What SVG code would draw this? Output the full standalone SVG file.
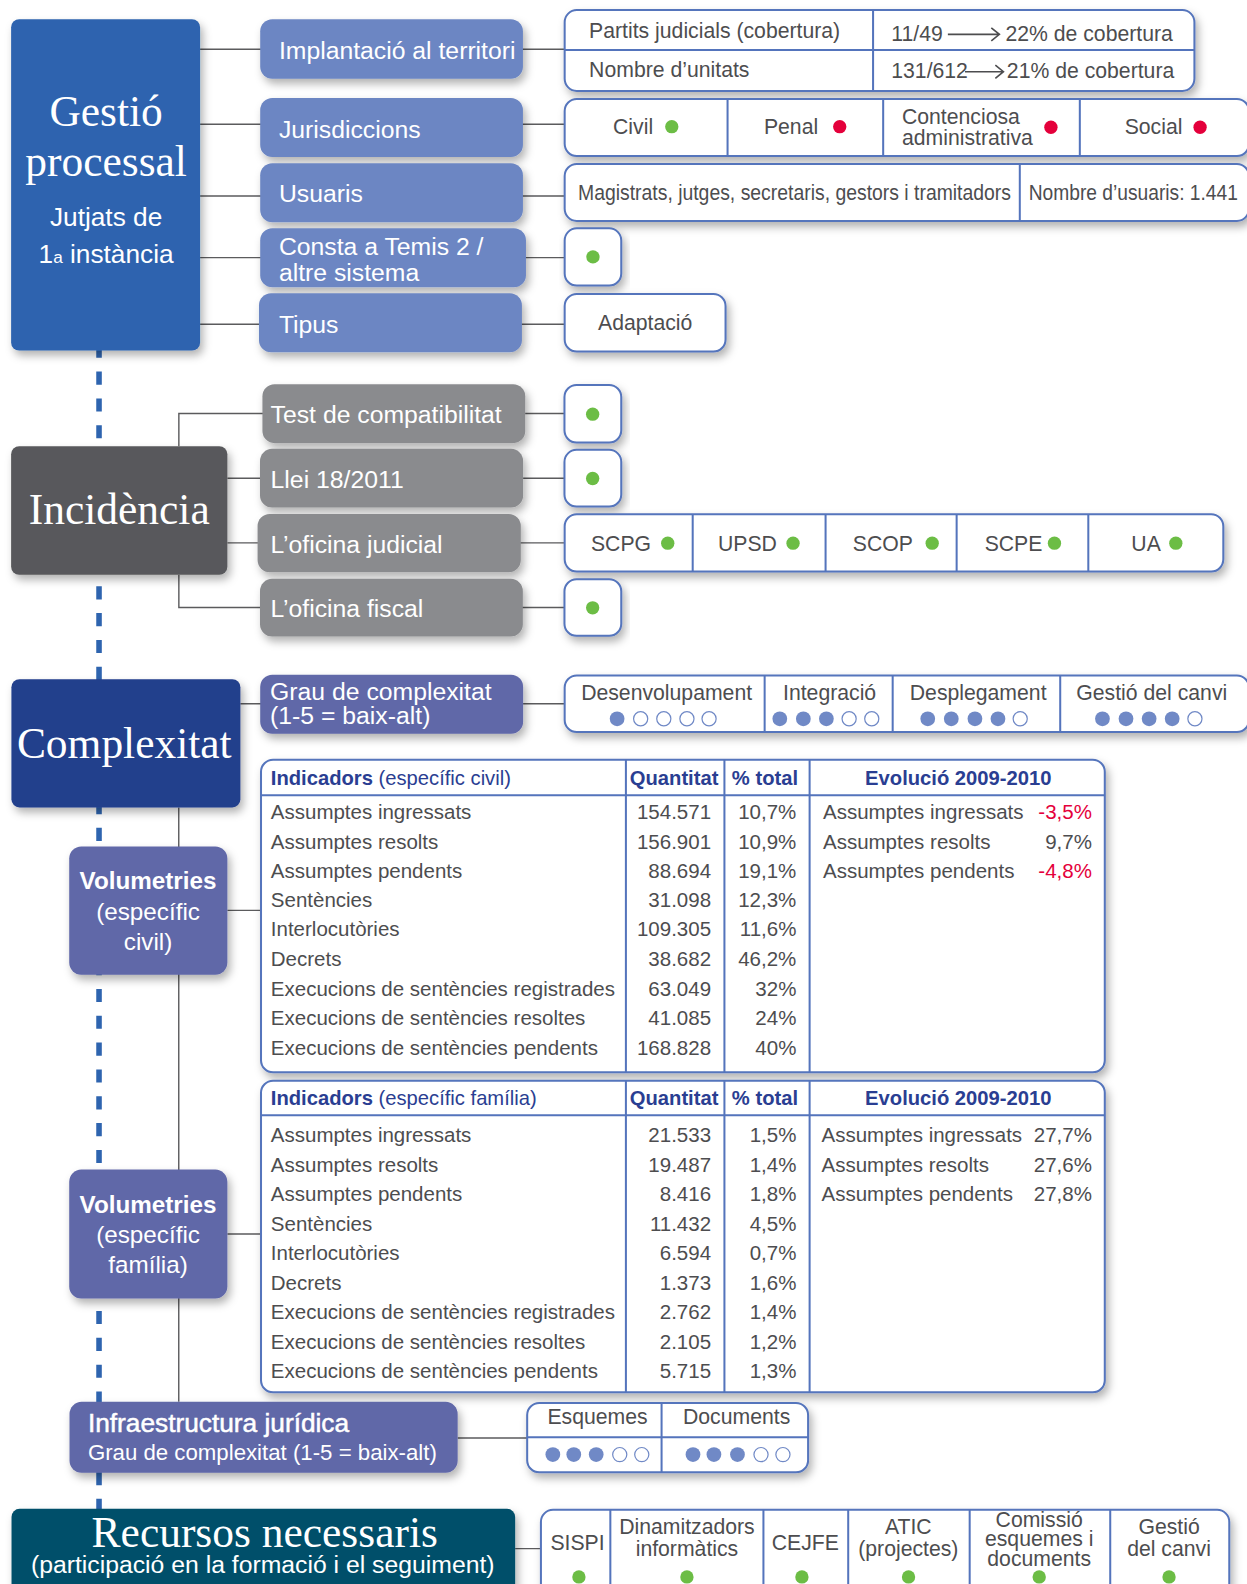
<svg xmlns="http://www.w3.org/2000/svg" width="1247" height="1584" viewBox="0 0 1247 1584">
<defs>
<filter id="sh" x="-10%" y="-15%" width="125%" height="145%">
<feDropShadow dx="3" dy="5" stdDeviation="4" flood-color="#000" flood-opacity="0.3"/>
</filter>
<style>
.cn{stroke:#5b5b5d;stroke-width:1.4;fill:none}
.dash{stroke:#2e64af;stroke-width:5.5;stroke-dasharray:13 13.57;fill:none}
.bx{fill:#fff;stroke:#5474bc;stroke-width:2;filter:url(#sh)}
.dv{stroke:#5474bc;stroke-width:2;fill:none}
.pl{fill:#6c86c3;filter:url(#sh)}
.pg{fill:#8a8b8e;filter:url(#sh)}
.pv{fill:#6067a8;filter:url(#sh)}
.hb{filter:url(#sh)}
text{font-family:"Liberation Sans",Arial,sans-serif}
.t{fill:#4d4d4f;font-size:21px}
.s{fill:#4d4d4f;font-size:20.3px}
.s.red{fill:#e4003b}
.pt{fill:#fff;font-size:24.5px}
.ser{font-family:"Liberation Serif","Times New Roman",serif;fill:#fff;font-size:43px}
.hd{fill:#2a3e92;font-size:20px;font-weight:bold}
.g{fill:#6cbd45}.r{fill:#e4003b}.df{fill:#7089c6}.de{fill:#fff;stroke:#7089c6;stroke-width:1.2}
.m{text-anchor:middle}.e{text-anchor:end}
.arr{stroke:#4d4d4f;stroke-width:1.6;fill:none}
</style>
</defs>
<rect width="1247" height="1584" fill="#fff"/>
<g transform="scale(1.0105 1.0102)">
<g id="connectors">
<path class="dash" d="M98 341.23 V1495"/>
<path class="cn" d="M198 48.8 H558.8 M198 123 H558.8 M198 194 H558.8 M198 255 H558.8 M198 321 H558.8"/>
<path class="cn" d="M177 441.7 V409.4 H558.6 M225 473.4 H558.6 M225 537.4 H558.8 M177 569 V601.4 H558.6"/>
<path class="cn" d="M237.9 696.7 H558.8 M176.9 799.3 V1387.7 M225 901.2 H258.3 M225 1221.5 H258.3 M452.9 1423.4 H521.7 M509.8 1533 H535.3"/>
</g>

<g id="gestio">
<rect class="hb" x="11" y="19" width="187" height="328" rx="8" fill="#2e64af"/>
<text class="ser m" x="105" y="125">Gestió</text>
<text class="ser m" x="105" y="174">processal</text>
<text class="m" x="105" y="224" fill="#fff" font-size="26">Jutjats de</text>
<text class="m" x="105" y="260" fill="#fff" font-size="26">1<tspan font-size="17">a</tspan> instància</text>
</g>

<g id="implantacio">
<rect class="pl" x="257.5" y="19" width="260" height="59" rx="12"/>
<text class="pt" x="276" y="58.7">Implantació al territori</text>
</g>
<g id="jurisdiccions">
<rect class="pl" x="257.5" y="97" width="260" height="58.5" rx="12"/>
<text class="pt" x="276" y="136.3">Jurisdiccions</text>
</g>
<g id="usuaris">
<rect class="pl" x="257.5" y="161.6" width="260" height="58.4" rx="12"/>
<text class="pt" x="276" y="199.6">Usuaris</text>
</g>
<g id="consta">
<rect class="pl" x="257.5" y="226" width="263" height="58.4" rx="12"/>
<text class="pt" x="276" y="252.4">Consta a Temis 2 /</text>
<text class="pt" x="276" y="277.8">altre sistema</text>
</g>
<g id="tipus">
<rect class="pl" x="256.3" y="290.3" width="260.2" height="58.4" rx="12"/>
<text class="pt" x="276" y="329.2">Tipus</text>
</g>

<g id="implantacio-box">
<rect class="bx" x="558.8" y="10" width="623.2" height="80" rx="12"/>
<path class="dv" d="M558.8 49.5 H1182 M864 10 V90"/>
<text class="t" x="583" y="38">Partits judicials (cobertura)</text>
<text class="t" x="882" y="40.2">11/49</text>
<path class="arr" d="M938 34 H989 M981 27.5 L989 34 L981 40.5"/>
<text class="t" x="995" y="40.2">22% de cobertura</text>
<text class="t" x="583" y="76">Nombre d’unitats</text>
<text class="t" x="882" y="77.5">131/612</text>
<path class="arr" d="M955 71 H993 M985 64.5 L993 71 L985 77.5"/>
<text class="t" x="996.4" y="77.5">21% de cobertura</text>
</g>

<g id="jurisdiccions-box">
<rect class="bx" x="558.8" y="98" width="677.2" height="56.4" rx="12"/>
<path class="dv" d="M720 98 V154.4 M874 98 V154.4 M1068.6 98 V154.4"/>
<text class="t" x="606.7" y="133">Civil</text><circle class="g" cx="664.8" cy="125.4" r="6.6"/>
<text class="t" x="756" y="133">Penal</text><circle class="r" cx="831" cy="125.4" r="6.6"/>
<text class="t" x="892.6" y="123">Contenciosa</text>
<text class="t" x="892.6" y="143.5">administrativa</text><circle class="r" cx="1040" cy="126" r="6.6"/>
<text class="t" x="1113" y="133">Social</text><circle class="r" cx="1187.6" cy="126" r="6.6"/>
</g>

<g id="usuaris-box">
<rect class="bx" x="558.8" y="162.3" width="677.2" height="56.4" rx="12"/>
<path class="dv" d="M1009.2 162.3 V218.7"/>
<text class="t" x="572" y="198" font-size="19.3" textLength="428.5" lengthAdjust="spacingAndGlyphs">Magistrats, jutges, secretaris, gestors i tramitadors</text>
<text class="t" x="1018" y="198" font-size="19.2" textLength="207" lengthAdjust="spacingAndGlyphs">Nombre d’usuaris: 1.441</text>
</g>

<g id="consta-box">
<rect class="bx" x="558.8" y="226" width="56" height="56.7" rx="12"/>
<circle class="g" cx="586.8" cy="254.3" r="6.6"/>
</g>
<g id="tipus-box">
<rect class="bx" x="558.8" y="291" width="159.2" height="57" rx="12"/>
<text class="t m" x="638.5" y="326.6">Adaptació</text>
</g>

<g id="incidencia">
<rect class="hb" x="11" y="441.7" width="214" height="127.3" rx="8" fill="#58595b"/>
<text class="ser m" x="118" y="518.6">Incidència</text>
</g>
<g id="test">
<rect class="pg" x="259.7" y="380.3" width="260.1" height="58.4" rx="12"/>
<text class="pt" x="267.8" y="419">Test de compatibilitat</text>
</g>
<g id="llei">
<rect class="pg" x="257.3" y="444.3" width="260.4" height="58.1" rx="12"/>
<text class="pt" x="267.8" y="483.3">Llei 18/2011</text>
</g>
<g id="oficina-judicial">
<rect class="pg" x="254.9" y="508.7" width="260.5" height="57.7" rx="12"/>
<text class="pt" x="267.8" y="547">L’oficina judicial</text>
</g>
<g id="oficina-fiscal">
<rect class="pg" x="257.3" y="573" width="260.1" height="57" rx="12"/>
<text class="pt" x="267.8" y="611">L’oficina fiscal</text>
</g>
<g id="test-box">
<rect class="bx" x="558.6" y="381" width="56.2" height="57" rx="12"/>
<circle class="g" cx="586.5" cy="410" r="6.6"/>
</g>
<g id="llei-box">
<rect class="bx" x="558.6" y="445.3" width="56.2" height="56.1" rx="12"/>
<circle class="g" cx="586.5" cy="473.7" r="6.6"/>
</g>
<g id="oficina-judicial-box">
<rect class="bx" x="558.8" y="509" width="651.8" height="56.7" rx="12"/>
<path class="dv" d="M685.5 509 V565.7 M817 509 V565.7 M946.7 509 V565.7 M1077 509 V565.7"/>
<text class="t" x="584.8" y="545">SCPG</text><circle class="g" cx="660.8" cy="537.7" r="6.6"/>
<text class="t" x="710.5" y="545">UPSD</text><circle class="g" cx="784.8" cy="537.7" r="6.6"/>
<text class="t" x="844" y="545">SCOP</text><circle class="g" cx="922.5" cy="537.7" r="6.6"/>
<text class="t" x="974.4" y="545">SCPE</text><circle class="g" cx="1043.5" cy="537.7" r="6.6"/>
<text class="t" x="1119.6" y="545">UA</text><circle class="g" cx="1163.6" cy="537.7" r="6.6"/>
</g>
<g id="oficina-fiscal-box">
<rect class="bx" x="558.6" y="573.3" width="56.2" height="56.1" rx="12"/>
<circle class="g" cx="586.5" cy="601.7" r="6.6"/>
</g>

<g id="complexitat">
<rect class="hb" x="11.3" y="672.3" width="226.6" height="127" rx="8" fill="#243f8c"/>
<text class="ser m" x="123" y="750.4">Complexitat</text>
</g>
<g id="grau">
<rect class="pv" x="257.5" y="668" width="260.2" height="58.4" rx="12"/>
<text class="pt" x="267.3" y="693.4">Grau de complexitat</text>
<text class="pt" x="267.3" y="716.5">(1-5 = baix-alt)</text>
</g>
<g id="grau-box">
<rect class="bx" x="558.8" y="668.6" width="677.2" height="56.1" rx="12"/>
<path class="dv" d="M756.7 668.6 V724.7 M883.4 668.6 V724.7 M1049.2 668.6 V724.7"/>
<text class="t m" x="659.7" y="692.7" font-size="20.5">Desenvolupament</text>
<text class="t m" x="821" y="692.7" font-size="20.5">Integració</text>
<text class="t m" x="968" y="692.7" font-size="20.5">Desplegament</text>
<text class="t m" x="1139.8" y="692.7" font-size="20.5">Gestió del canvi</text>
<circle class="df" cx="610.7" cy="711.5" r="7.3"/><circle class="de" cx="634" cy="711.5" r="7"/><circle class="de" cx="656.9" cy="711.5" r="7"/><circle class="de" cx="679.8" cy="711.5" r="7"/><circle class="de" cx="701.7" cy="711.5" r="7"/>
<circle class="df" cx="771.7" cy="711.5" r="7.3"/><circle class="df" cx="795" cy="711.5" r="7.3"/><circle class="df" cx="817.8" cy="711.5" r="7.3"/><circle class="de" cx="840.3" cy="711.5" r="7"/><circle class="de" cx="862.7" cy="711.5" r="7"/>
<circle class="df" cx="918.1" cy="711.5" r="7.3"/><circle class="df" cx="941.4" cy="711.5" r="7.3"/><circle class="df" cx="964.8" cy="711.5" r="7.3"/><circle class="df" cx="987.6" cy="711.5" r="7.3"/><circle class="de" cx="1009.6" cy="711.5" r="7"/>
<circle class="df" cx="1091" cy="711.5" r="7.3"/><circle class="df" cx="1114.3" cy="711.5" r="7.3"/><circle class="df" cx="1137.2" cy="711.5" r="7.3"/><circle class="df" cx="1160" cy="711.5" r="7.3"/><circle class="de" cx="1182.5" cy="711.5" r="7"/>
</g>

<g id="volumetries-civil">
<rect class="pv" x="68.5" y="837.9" width="156.5" height="127" rx="12"/>
<text class="m" x="146.5" y="880" fill="#fff" font-size="24" font-weight="bold">Volumetries</text>
<text class="m" x="146.5" y="911.1" fill="#fff" font-size="24">(específic</text>
<text class="m" x="146.5" y="940.1" fill="#fff" font-size="24">civil)</text>
</g>
<g id="taula-civil">
<rect class="bx" x="258.3" y="752.1" width="835" height="309.4" rx="12"/>
<path class="dv" d="M258.3 787.2 H1093.3 M619.4 752.1 V1061.5 M716.9 752.1 V1061.5 M801.2 752.1 V1061.5"/>
<text class="hd" x="268" y="776.8">Indicadors<tspan font-weight="normal"> (específic civil)</tspan></text>
<text class="hd m" x="667.1" y="776.8">Quantitat</text>
<text class="hd m" x="757" y="776.8">% total</text>
<text class="hd m" x="948.3" y="776.8">Evolució 2009-2010</text>
<text class="s" x="268" y="810.6">Assumptes ingressats</text><text class="s e" x="703.7" y="810.6">154.571</text><text class="s e" x="788.1" y="810.6">10,7%</text>
<text class="s" x="268" y="840.2">Assumptes resolts</text><text class="s e" x="703.7" y="840.2">156.901</text><text class="s e" x="788.1" y="840.2">10,9%</text>
<text class="s" x="268" y="869.1">Assumptes pendents</text><text class="s e" x="703.7" y="869.1">88.694</text><text class="s e" x="788.1" y="869.1">19,1%</text>
<text class="s" x="268" y="898.2">Sentències</text><text class="s e" x="703.7" y="898.2">31.098</text><text class="s e" x="788.1" y="898.2">12,3%</text>
<text class="s" x="268" y="927">Interlocutòries</text><text class="s e" x="703.7" y="927">109.305</text><text class="s e" x="788.1" y="927">11,6%</text>
<text class="s" x="268" y="956.6">Decrets</text><text class="s e" x="703.7" y="956.6">38.682</text><text class="s e" x="788.1" y="956.6">46,2%</text>
<text class="s" x="268" y="985.5">Execucions de sentències registrades</text><text class="s e" x="703.7" y="985.5">63.049</text><text class="s e" x="788.1" y="985.5">32%</text>
<text class="s" x="268" y="1014.8">Execucions de sentències resoltes</text><text class="s e" x="703.7" y="1014.8">41.085</text><text class="s e" x="788.1" y="1014.8">24%</text>
<text class="s" x="268" y="1043.9">Execucions de sentències pendents</text><text class="s e" x="703.7" y="1043.9">168.828</text><text class="s e" x="788.1" y="1043.9">40%</text>
<text class="s" x="814.4" y="810.6">Assumptes ingressats</text><text class="s e red" x="1080.6" y="810.6">-3,5%</text>
<text class="s" x="814.4" y="840.2">Assumptes resolts</text><text class="s e" x="1080.6" y="840.2">9,7%</text>
<text class="s" x="814.4" y="869.1">Assumptes pendents</text><text class="s e red" x="1080.6" y="869.1">-4,8%</text>
</g>

<g id="volumetries-familia">
<rect class="pv" x="68.5" y="1157.8" width="156.5" height="127.7" rx="12"/>
<text class="m" x="146.5" y="1200.7" fill="#fff" font-size="24" font-weight="bold">Volumetries</text>
<text class="m" x="146.5" y="1230.4" fill="#fff" font-size="24">(específic</text>
<text class="m" x="146.5" y="1260.1" fill="#fff" font-size="24">família)</text>
</g>
<g id="taula-familia">
<rect class="bx" x="258.3" y="1069.8" width="835" height="308.4" rx="12"/>
<path class="dv" d="M258.3 1104.1 H1093.3 M619.4 1069.8 V1378.2 M716.9 1069.8 V1378.2 M801.2 1069.8 V1378.2"/>
<text class="hd" x="268" y="1093.5">Indicadors<tspan font-weight="normal"> (específic família)</tspan></text>
<text class="hd m" x="667.1" y="1093.5">Quantitat</text>
<text class="hd m" x="757" y="1093.5">% total</text>
<text class="hd m" x="948.3" y="1093.5">Evolució 2009-2010</text>
<text class="s" x="268" y="1130.8">Assumptes ingressats</text><text class="s e" x="703.7" y="1130.8">21.533</text><text class="s e" x="788.1" y="1130.8">1,5%</text>
<text class="s" x="268" y="1159.8">Assumptes resolts</text><text class="s e" x="703.7" y="1159.8">19.487</text><text class="s e" x="788.1" y="1159.8">1,4%</text>
<text class="s" x="268" y="1189.2">Assumptes pendents</text><text class="s e" x="703.7" y="1189.2">8.416</text><text class="s e" x="788.1" y="1189.2">1,8%</text>
<text class="s" x="268" y="1218.2">Sentències</text><text class="s e" x="703.7" y="1218.2">11.432</text><text class="s e" x="788.1" y="1218.2">4,5%</text>
<text class="s" x="268" y="1247.6">Interlocutòries</text><text class="s e" x="703.7" y="1247.6">6.594</text><text class="s e" x="788.1" y="1247.6">0,7%</text>
<text class="s" x="268" y="1276.6">Decrets</text><text class="s e" x="703.7" y="1276.6">1.373</text><text class="s e" x="788.1" y="1276.6">1,6%</text>
<text class="s" x="268" y="1305.6">Execucions de sentències registrades</text><text class="s e" x="703.7" y="1305.6">2.762</text><text class="s e" x="788.1" y="1305.6">1,4%</text>
<text class="s" x="268" y="1335.3">Execucions de sentències resoltes</text><text class="s e" x="703.7" y="1335.3">2.105</text><text class="s e" x="788.1" y="1335.3">1,2%</text>
<text class="s" x="268" y="1364">Execucions de sentències pendents</text><text class="s e" x="703.7" y="1364">5.715</text><text class="s e" x="788.1" y="1364">1,3%</text>
<text class="s" x="813" y="1130.8">Assumptes ingressats</text><text class="s e" x="1080.6" y="1130.8">27,7%</text>
<text class="s" x="813" y="1159.8">Assumptes resolts</text><text class="s e" x="1080.6" y="1159.8">27,6%</text>
<text class="s" x="813" y="1189.2">Assumptes pendents</text><text class="s e" x="1080.6" y="1189.2">27,8%</text>
</g>

<g id="infraestructura">
<rect class="pv" x="68.8" y="1387.7" width="384.1" height="70.3" rx="12"/>
<text x="87" y="1417.4" fill="#fff" font-size="26" stroke="#fff" stroke-width="0.5">Infraestructura jurídica</text>
<text x="87" y="1444.8" fill="#fff" font-size="22">Grau de complexitat (1-5 = baix-alt)</text>
</g>
<g id="infraestructura-box">
<rect class="bx" x="521.7" y="1388.8" width="278" height="68.6" rx="12"/>
<path class="dv" d="M521.7 1422.7 H799.7 M654.7 1388.8 V1457.4"/>
<text class="t m" x="591.3" y="1409.5">Esquemes</text>
<text class="t m" x="729" y="1409.5">Documents</text>
<circle class="df" cx="547.1" cy="1439.9" r="7.3"/><circle class="df" cx="567.8" cy="1439.9" r="7.3"/><circle class="df" cx="590" cy="1439.9" r="7.3"/><circle class="de" cx="613.3" cy="1439.9" r="7"/><circle class="de" cx="635.1" cy="1439.9" r="7"/>
<circle class="df" cx="685.8" cy="1439.9" r="7.3"/><circle class="df" cx="706.5" cy="1439.9" r="7.3"/><circle class="df" cx="729.8" cy="1439.9" r="7.3"/><circle class="de" cx="753.1" cy="1439.9" r="7"/><circle class="de" cx="774.8" cy="1439.9" r="7"/>
</g>

<g id="recursos">
<rect class="hb" x="11.4" y="1493.6" width="498.4" height="100" rx="8" fill="#00506a"/>
<text class="ser m" x="262" y="1531" font-size="44">Recursos necessaris</text>
<text class="m" x="260" y="1557.5" fill="#fff" font-size="24.5">(participació en la formació i el seguiment)</text>
</g>
<g id="recursos-box">
<rect class="bx" x="535.3" y="1494.6" width="681.2" height="100" rx="12"/>
<path class="dv" d="M604 1494.6 V1600 M755.5 1494.6 V1600 M839.4 1494.6 V1600 M959.6 1494.6 V1600 M1098.7 1494.6 V1600"/>
<text class="t m" x="571.5" y="1533.9">SISPI</text>
<text class="t m" x="679.8" y="1519">Dinamitzadors</text>
<text class="t m" x="679.8" y="1539.8">informàtics</text>
<text class="t m" x="797" y="1533.9">CEJFE</text>
<text class="t m" x="898.9" y="1519">ATIC</text>
<text class="t m" x="898.9" y="1539.8">(projectes)</text>
<text class="t m" x="1028.4" y="1511.5" font-size="20">Comissió</text>
<text class="t m" x="1028.4" y="1530.8" font-size="20">esquemes i</text>
<text class="t m" x="1028.4" y="1550" font-size="20">documents</text>
<text class="t m" x="1156.9" y="1519">Gestió</text>
<text class="t m" x="1156.9" y="1539.8">del canvi</text>
<circle class="g" cx="572.9" cy="1561" r="6.6"/><circle class="g" cx="679.8" cy="1561" r="6.6"/><circle class="g" cx="793.6" cy="1561" r="6.6"/><circle class="g" cx="899.1" cy="1561" r="6.6"/><circle class="g" cx="1028.4" cy="1561" r="6.6"/><circle class="g" cx="1156.9" cy="1561" r="6.6"/>
</g>
</g>
</svg>
